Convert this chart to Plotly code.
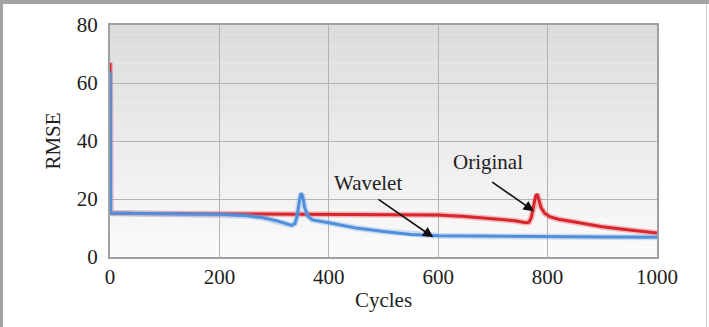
import plotly.graph_objects as go

# ---- data ----
orig_x = [0, 1, 50, 200, 400, 500, 600, 650, 700, 740, 760, 766, 770, 774, 778, 781, 784, 788, 795, 805, 820, 850, 900, 950, 1000]
orig_y = [67, 15.2, 15, 14.9, 14.8, 14.7, 14.5, 14.0, 13.3, 12.5, 11.8, 12, 13.5, 17, 21, 21.7, 20, 17, 15, 13.8, 13, 12, 10.4, 9.3, 8.3]

wave_x = [0, 1, 50, 200, 250, 280, 305, 320, 332, 338, 342, 346, 349, 352, 356, 362, 370, 400, 450, 500, 550, 600, 700, 800, 900, 1000]
wave_y = [64, 15.2, 15, 14.7, 14.2, 13.5, 12.5, 11.5, 10.9, 11.5, 14, 19, 22, 21, 17, 14, 12.8, 11.8, 10, 8.8, 7.8, 7.3, 7.1, 7.0, 6.9, 6.8]

x_ticks = [0, 200, 400, 600, 800, 1000]
y_ticks = [0, 20, 40, 60, 80]

FONT = "Liberation Serif, Times New Roman, serif"

fig = go.Figure()

# halo + line for each series
for xs, ys, col, halo in [
    (orig_x, orig_y, "#d8262c", "rgba(230,80,90,0.35)"),
    (wave_x, wave_y, "#4f8fdc", "rgba(120,170,230,0.35)"),
]:
    fig.add_trace(go.Scatter(x=xs, y=ys, mode="lines", showlegend=False, hoverinfo="skip",
                             line=dict(color=halo, width=6, shape="linear")))
    fig.add_trace(go.Scatter(x=xs, y=ys, mode="lines", showlegend=False,
                             line=dict(color=col, width=3, shape="linear")))

# gradient background in the plot area
shapes = []
n = 24
for i in range(n):
    t = i / (n - 1)
    v = int(round(220 + (250 - 220) * t))
    shapes.append(dict(type="rect", xref="x domain", yref="y domain",
                       x0=0, x1=1, y0=1 - (i + 1) / n, y1=1 - i / n,
                       fillcolor=f"rgb({v},{v},{v})", line=dict(width=0), layer="below"))
# outer frame
shapes.append(dict(type="rect", xref="paper", yref="paper",
                   x0=-110 / 547, x1=-107 / 547, y0=-70 / 232, y1=1 + 25 / 232,
                   fillcolor="#a3a3a3", line=dict(width=0)))
shapes.append(dict(type="rect", xref="paper", yref="paper",
                   x0=-110 / 547, x1=1 + 52 / 547, y0=1 + 21 / 232, y1=1 + 25 / 232,
                   fillcolor="#a3a3a3", line=dict(width=0)))
shapes.append(dict(type="rect", xref="paper", yref="paper",
                   x0=1 + 49 / 547, x1=1 + 50 / 547, y0=-70 / 232, y1=1 + 21 / 232,
                   fillcolor="#d0d0d0", line=dict(width=0)))

fig.update_layout(
    width=709, height=327,
    margin=dict(l=110, r=52, t=25, b=70),
    paper_bgcolor="white",
    plot_bgcolor="rgba(0,0,0,0)",
    font=dict(family=FONT, size=21, color="#222"),
    shapes=shapes,
    xaxis=dict(range=[0, 1000], tickvals=x_ticks, showgrid=True, gridcolor="#b4b4b4", gridwidth=1,
               showline=True, linecolor="#a0a0a0", linewidth=2, mirror=True, zeroline=False,
               ticks="", tickfont=dict(size=21, family=FONT, color="#222"),
               title=dict(text="Cycles", font=dict(size=21, family=FONT, color="#222"), standoff=4)),
    yaxis=dict(range=[0, 80], tickvals=y_ticks, showgrid=True, gridcolor="#b4b4b4", gridwidth=1,
               showline=True, linecolor="#a0a0a0", linewidth=2, mirror=True, zeroline=False,
               ticks="", ticklabelstandoff=6, tickfont=dict(size=21, family=FONT, color="#222"),
               title=dict(text="RMSE", font=dict(size=21, family=FONT, color="#222"), standoff=10)),
)

# annotations
fig.add_annotation(x=472, y=25.5, text="Wavelet", showarrow=False,
                   font=dict(size=21, family=FONT, color="#222"))
fig.add_annotation(x=591, y=6.8, ax=488, ay=20.2, axref="x", ayref="y", text="",
                   showarrow=True, arrowhead=2, arrowsize=1.3, arrowwidth=1.6, arrowcolor="#111")
fig.add_annotation(x=691, y=32.8, text="Original", showarrow=False,
                   font=dict(size=21, family=FONT, color="#222"))
fig.add_annotation(x=775, y=15.8, ax=696, ay=26.2, axref="x", ayref="y", text="",
                   showarrow=True, arrowhead=2, arrowsize=1.3, arrowwidth=1.6, arrowcolor="#111")

fig.write_html("out.html")
